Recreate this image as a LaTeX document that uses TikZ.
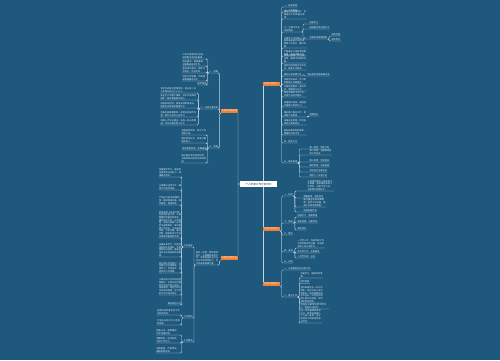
\documentclass[tikz,border=0pt]{standalone}
\usepackage{fontspec}
\newfontfamily\cjk{Noto Sans CJK SC}
\XeTeXlinebreaklocale "zh"
\XeTeXlinebreakskip = 0pt plus 0.3pt
\usetikzlibrary{backgrounds}
\definecolor{bgblue}{RGB}{30,88,124}
\definecolor{linkc}{RGB}{196,214,226}
\definecolor{leafc}{RGB}{226,234,240}
\definecolor{topicc}{RGB}{238,128,52}
\definecolor{rootc}{RGB}{45,45,45}

\begin{document}
\begin{tikzpicture}[x=1pt,y=-1pt,
  root/.style={fill=white,text=rootc,font=\cjk\fontsize{2.6}{3}\selectfont,minimum width=37pt,minimum height=6pt,inner sep=0.5pt},
  topic/.style={fill=topicc,text=white,font=\cjk\fontsize{2.2}{2.6}\selectfont,minimum height=4.5pt,inner sep=0.7pt},
  leaf/.style={text=leafc,font=\cjk\fontsize{2.2}{2.7}\selectfont,inner sep=0.3pt,align=left},
  link/.style={draw=linkc,line width=0.4pt,rounded corners=1.2pt},
  rto/.style={to path={(\tikztostart.south east) -- ++(1.5,0) |- (\tikztotarget.south west) -- (\tikztotarget.south east)}},
  lto/.style={to path={(\tikztostart.south west) -- ++(-1.5,0) |- (\tikztotarget.south east) -- (\tikztotarget.south west)}}]
\useasboundingbox (0,0) rectangle (500,360);

% centre and main topics
\node[root] (root) at (258.5,184) {个人年度工作计划范文};
\node[topic,anchor=west] (R1) at (263,84) {工作计划范文一};
\node[topic,anchor=west] (R2) at (263,229) {工作计划范文二};
\node[topic,anchor=west] (R3) at (263,284) {工作计划范文三};
\node[topic,anchor=east] (L1) at (238,111) {工作计划范文四};
\node[topic,anchor=east] (L2) at (238,258) {工作计划范文五};

% R1
\node[leaf,anchor=south west] (a1) at (283.5,7) {一、指导思想};
\node[leaf,anchor=south west] (a2) at (283.5,12) {二、工作目标};
\node[leaf,anchor=south west,text width=22pt] (a3) at (283.5,19) {围绕公司年度目标，全面提升工作质量与效率。};
\node[leaf,anchor=south west,text width=17pt] (a4) at (283.5,32) {三、主要工作任务及措施};
\node[leaf,anchor=south west] (a4a) at (309,24) {加强学习};
\node[leaf,anchor=south west] (a4b) at (309,29) {提高服务意识和水平};
\node[leaf,anchor=south west] (a4c) at (309,39) {完善各项管理制度};
\node[leaf,anchor=south west] (a4c1) at (331,36) {规范流程};
\node[leaf,anchor=south west] (a4c2) at (331,41) {落实责任};
\node[leaf,anchor=south west,text width=22pt] (a5) at (283.5,48) {认真学习业务知识，不断提高自身的综合素质和工作能力，做好本职。};
\node[leaf,anchor=south west,text width=22pt] (a6) at (283.5,56) {严格遵守公司各项规章制度，做好本职工作。};
\node[leaf,anchor=south west,text width=22pt] (a7) at (283.5,63) {加强与各部门的沟通协调，确保工作顺利开展。};
\node[leaf,anchor=south west,text width=22pt] (a8) at (283.5,70) {按时完成领导交办的任务，提高工作效率。};
\node[leaf,anchor=south west] (a9) at (283.5,76) {做好日常核算工作};
\node[leaf,anchor=south west] (a9a) at (307,76) {保证账目清晰准确无误};
\node[leaf,anchor=south west,text width=22pt] (a10) at (283.5,84) {积极参加培训，学习新的管理方法和理念。};
\node[leaf,anchor=south west,text width=22pt] (a11) at (283.5,91) {总结经验教训，查找不足，明确努力方向。};
\node[leaf,anchor=south west,text width=22pt] (a12) at (283.5,97) {制定详细的工作计划，并按计划逐步落实。};
\node[leaf,anchor=south west,text width=22pt] (a13) at (283.5,107) {加强团队建设，增强团队凝聚力和执行力。};
\node[leaf,anchor=south west,text width=22pt] (a14) at (283.5,117) {做好客户服务工作，提高客户满意度。};
\node[leaf,anchor=south west] (a14a) at (309,116) {定期回访};
\node[leaf,anchor=south west,text width=22pt] (a15) at (283.5,125) {加强安全管理，杜绝各类安全事故发生。};
\node[leaf,anchor=south west,text width=22pt] (a16) at (283.5,135) {做好档案资料的收集、整理和归档工作。};
\node[leaf,anchor=south west] (a17) at (283.5,143) {四、其他工作};
\node[leaf,anchor=south west] (a18) at (283.5,163) {五、具体安排};
\node[leaf,anchor=south west] (a18a) at (309,149) {第一季度：制定计划};
\node[leaf,anchor=south west,text width=22pt] (a18b) at (309,155) {第二季度：全面推进各项工作任务};
\node[leaf,anchor=south west] (a18c) at (309,162) {第三季度：检查落实};
\node[leaf,anchor=south west] (a18d) at (309,167) {第四季度：总结提高};
\node[leaf,anchor=south west] (a18e) at (309,172) {年终进行全面总结};
\node[leaf,anchor=south west] (a18f) at (309,177) {制定下一年度计划};

% R2
\node[leaf,anchor=south west] (b1) at (283.5,196) {一、目标};
\node[leaf,anchor=south west,text width=26pt] (b1a) at (307,191) {认真贯彻落实上级各项工作部署，紧紧围绕年度工作目标，创新工作方法，全面提升管理水平。};
\node[leaf,anchor=south west] (b1b) at (303,198) {明确职责，落实责任};
\node[leaf,anchor=south west,text width=22pt] (b1c) at (303,207) {建立健全各项规章制度，规范工作流程，提高工作效率和质量。};
\node[leaf,anchor=south west] (b1d) at (303,212) {加强监督检查};
\node[leaf,anchor=south west] (b2) at (283.5,223) {二、措施};
\node[leaf,anchor=south west] (b2a) at (297,217) {加强学习，提高素质};
\node[leaf,anchor=south west] (b2b) at (297,223) {强化管理，注重实效};
\node[leaf,anchor=south west] (b2c) at (297,230) {狠抓落实};
\node[leaf,anchor=south west] (b3) at (283.5,235) {三、要求};
\node[leaf,anchor=south west] (b4) at (283.5,252) {四、安排};
\node[leaf,anchor=south west,text width=27pt] (b4a) at (297,248) {一月至三月，完成年度工作计划的制定及分解，并组织全体人员认真学习。};
\node[leaf,anchor=south west] (b4b) at (297,253) {四月至九月，全面推进};
\node[leaf,anchor=south west] (b4c) at (297,258) {十月至年底，总结};
\node[leaf,anchor=south west] (b5) at (283.5,263) {五、总结};

% R3
\node[leaf,anchor=south west] (c1) at (283.5,270) {一、认真做好各项日常工作};
\node[leaf,anchor=south west] (c2) at (283.5,297) {二、重点工作};
\node[leaf,anchor=south west,text width=22pt] (c2a) at (300,278) {加强学习，提高综合素质。};
\node[leaf,anchor=south west] (c2b) at (300,283.5) {规范管理};
\node[leaf,anchor=south west,text width=23pt] (c2c) at (300,303) {坚持每周召开一次工作例会，及时总结上周工作情况，安排部署本周工作任务，对存在的问题认真分析原因，研究制定整改措施。};
\node[leaf,anchor=south west,text width=28pt] (c2d) at (300,309) {加强与兄弟单位的交流学习，借鉴先进经验。};
\node[leaf,anchor=south west,text width=21pt] (c2e) at (300,323) {进一步完善绩效考核办法，将考核结果与个人收入挂钩，充分调动员工的积极性和主动性。};

% L1
\node[leaf,anchor=south east] (d1) at (218.5,73) {一、思路};
\node[leaf,anchor=south east,text width=24pt] (d1a) at (207,59) {以科学发展观为指导，坚持稳中求进总基调。};
\node[leaf,anchor=south east,text width=24pt] (d1b) at (207,66) {突出重点，统筹兼顾，全面推进各项工作。};
\node[leaf,anchor=south east,text width=24pt] (d1c) at (207,73) {强化责任意识，狠抓工作落实，务求实效。};
\node[leaf,anchor=south east,text width=24pt] (d1d) at (207,81) {创新工作思路，不断提高管理服务水平。};
\node[leaf,anchor=south east] (d1e) at (207,85) {稳步推进};
\node[leaf,anchor=south east] (d2) at (218.5,109) {二、年度主要目标};
\node[leaf,anchor=south east,text width=36pt] (d2a) at (197,93) {全年完成各项经营指标，营业收入比上年增长百分之十以上。};
\node[leaf,anchor=south east,text width=36pt] (d2b) at (197,100) {安全生产无重大事故，员工队伍保持稳定，服务质量稳步提升。};
\node[leaf,anchor=south east,text width=36pt] (d2c) at (197,108) {加强成本控制，降低各项费用支出，提高经济效益和管理水平。};
\node[leaf,anchor=south east,text width=36pt] (d2d) at (197,117) {完善内部管理制度，规范业务操作流程，提升企业核心竞争力。};
\node[leaf,anchor=south east,text width=36pt] (d2e) at (197,125) {加强人才队伍建设，培养一批业务精通、作风过硬的骨干员工。};
\node[leaf,anchor=south east] (d3) at (218.5,148) {三、措施};
\node[leaf,anchor=south east,text width=25pt] (d3a) at (207,135) {加强组织领导，成立工作领导小组。};
\node[leaf,anchor=south east,text width=25pt] (d3b) at (207,143) {细化目标任务，层层分解落实到人。};
\node[leaf,anchor=south east] (d3c) at (207,150) {强化督促检查，定期通报};
\node[leaf,anchor=south east,text width=25pt] (d3d) at (207,163) {建立健全考核奖惩机制，对成绩突出的给予表彰奖励。};

% L2
\node[leaf,anchor=south east,text width=22pt] (e0) at (218.5,265) {新的一年里，我将继续努力，认真做好各项工作，不断提高自己的业务水平和综合能力，为公司发展贡献力量。};
\node[leaf,anchor=south east] (e1) at (193,247) {工作内容};
\node[leaf,anchor=south east,text width=22pt] (e1a) at (181.5,177) {加强理论学习，提高政治素质和业务能力，增强服务意识。};
\node[leaf,anchor=south east,text width=22pt] (e1b) at (181.5,190) {认真做好日常工作，确保工作有序开展。};
\node[leaf,anchor=south east,text width=22pt] (e1c) at (181.5,205) {严格执行各项规章制度，做到有章可循，规范管理，提高效率。};
\node[leaf,anchor=south east,text width=22pt] (e1d) at (181.5,238) {积极配合上级部门做好各项检查工作，认真整理和完善各类资料，做到资料齐全、分类清楚。加强与各部门之间的沟通和联系，及时掌握工作动态，主动发现问题、分析问题、解决问题，确保各项工作任务保质保量按时完成。};
\node[leaf,anchor=south east,text width=22pt] (e1e) at (181.5,257) {加强自身学习，积极参加各种业务培训，不断更新知识结构，提高自身的业务技能和综合素质。};
\node[leaf,anchor=south east,text width=22pt] (e1f) at (181.5,273) {树立团队合作意识，与同事之间互相帮助、互相学习，共同进步，营造良好工作氛围。};
\node[leaf,anchor=south east,text width=22pt] (e1g) at (181.5,295) {认真总结工作中的经验和教训，对存在的问题和不足进行深入剖析，找准原因，制定切实可行的改进措施，在今后的工作中加以改正。};
\node[leaf,anchor=south east] (e1h) at (181.5,305) {做好其他工作};
\node[leaf,anchor=south east] (e2) at (193,318) {工作目标};
\node[leaf,anchor=south east,text width=24pt] (e2a) at (181.5,315) {全面完成年度各项工作任务和指标。};
\node[leaf,anchor=south east,text width=24pt] (e2b) at (181.5,325) {力争在业务水平上有新的突破。};
\node[leaf,anchor=south east] (e3) at (193,342) {工作要求};
\node[leaf,anchor=south east,text width=23pt] (e3a) at (180,335) {提高认识，高度重视，切实加强领导。};
\node[leaf,anchor=south east,text width=23pt] (e3b) at (180,343) {明确责任，密切配合，形成工作合力。};
\node[leaf,anchor=south east,text width=23pt] (e3c) at (180,353) {加强督查，严格考核，确保取得实效。};

\begin{scope}[on background layer]
\fill[bgblue] (0,0) rectangle (500,360);
% centre to topics
\draw[link] (root.north -| R1.south west) -- (R1.south west);
\draw[link] (root.south -| R2.north west) -- (R2.north west);
\draw[link] (root.south -| R3.north west) -- (R3.north west);
\draw[link] (root.west) -| (L1.south east);
\draw[link] (root.west) -| (L2.north east);
% right side
\path[link] (R1) edge[rto] (a1) edge[rto] (a2) edge[rto] (a3) edge[rto] (a4)
  edge[rto] (a5) edge[rto] (a6) edge[rto] (a7) edge[rto] (a8) edge[rto] (a9)
  edge[rto] (a10) edge[rto] (a11) edge[rto] (a12) edge[rto] (a13) edge[rto] (a14)
  edge[rto] (a15) edge[rto] (a16) edge[rto] (a17) edge[rto] (a18)
  (a4) edge[rto] (a4a) edge[rto] (a4b) edge[rto] (a4c)
  (a4c) edge[rto] (a4c1) edge[rto] (a4c2)
  (a9) edge[rto] (a9a)
  (a14) edge[rto] (a14a)
  (a18) edge[rto] (a18a) edge[rto] (a18b) edge[rto] (a18c) edge[rto] (a18d)
  edge[rto] (a18e) edge[rto] (a18f);
\path[link] (R2) edge[rto] (b1) edge[rto] (b2) edge[rto] (b3) edge[rto] (b4) edge[rto] (b5)
  (b1) edge[rto] (b1a) edge[rto] (b1b) edge[rto] (b1c) edge[rto] (b1d)
  (b2) edge[rto] (b2a) edge[rto] (b2b) edge[rto] (b2c)
  (b4) edge[rto] (b4a) edge[rto] (b4b) edge[rto] (b4c);
\path[link] (R3) edge[rto] (c1) edge[rto] (c2)
  (c2) edge[rto] (c2a) edge[rto] (c2b) edge[rto] (c2c) edge[rto] (c2d) edge[rto] (c2e);
% left side
\path[link] (L1) edge[lto] (d1) edge[lto] (d2) edge[lto] (d3)
  (d1) edge[lto] (d1a) edge[lto] (d1b) edge[lto] (d1c) edge[lto] (d1d) edge[lto] (d1e)
  (d2) edge[lto] (d2a) edge[lto] (d2b) edge[lto] (d2c) edge[lto] (d2d) edge[lto] (d2e)
  (d3) edge[lto] (d3a) edge[lto] (d3b) edge[lto] (d3c) edge[lto] (d3d);
\path[link] (L2) edge[lto] (e0)
  (e0) edge[lto] (e1) edge[lto] (e2) edge[lto] (e3)
  (e1) edge[lto] (e1a) edge[lto] (e1b) edge[lto] (e1c) edge[lto] (e1d)
  edge[lto] (e1e) edge[lto] (e1f) edge[lto] (e1g) edge[lto] (e1h)
  (e2) edge[lto] (e2a) edge[lto] (e2b)
  (e3) edge[lto] (e3a) edge[lto] (e3b) edge[lto] (e3c);
\end{scope}
\end{tikzpicture}
\end{document}
